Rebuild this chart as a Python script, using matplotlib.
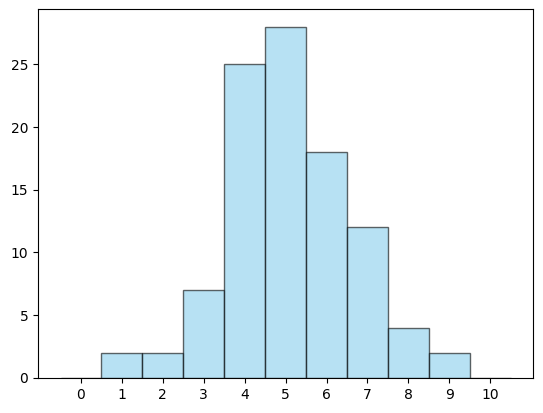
import numpy as np
import matplotlib
matplotlib.use("Agg")
import matplotlib.pyplot as plt

# histogram counts per integer value
values = [0, 1, 2, 3, 4, 5, 6, 7, 8, 9, 10]
counts = [0, 2, 2, 7, 25, 28, 18, 12, 4, 2, 0]

bins = np.arange(-0.5, 11.5, 1)

fig = plt.figure(figsize=(5.43, 4.13), dpi=100)
ax = fig.add_subplot(1, 1, 1)
fig.subplots_adjust(left=0.07, right=0.982, top=0.978, bottom=0.085)

ax.hist(values, bins=bins, weights=counts, color='skyblue', edgecolor='black', alpha=0.6)
ax.set_xticks(values)

fig.savefig('out.png', dpi=100)
